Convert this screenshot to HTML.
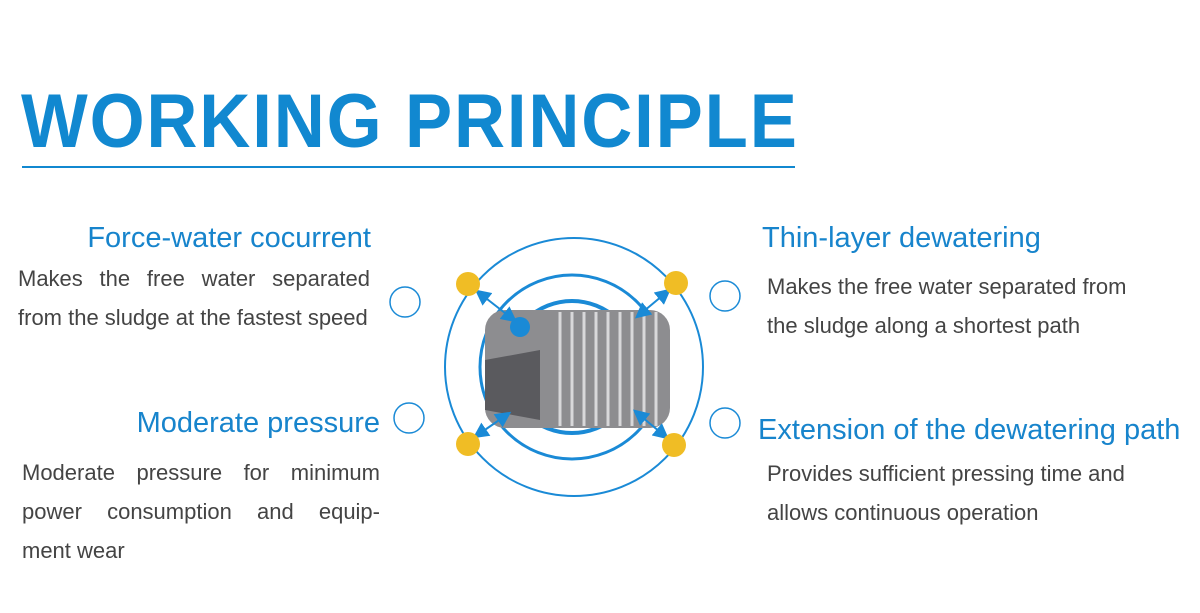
<!DOCTYPE html>
<html><head><style>
body{margin:0;width:1200px;height:613px;background:#fff;position:relative;overflow:hidden;font-family:"Liberation Sans",sans-serif}
.t{position:absolute;left:21px;top:78px;font-size:76px;font-weight:bold;color:#1188d0;letter-spacing:2px;white-space:nowrap;transform:scaleX(0.93);transform-origin:0 0}
.ln{position:absolute;left:22px;top:166px;width:773px;height:2px;background:#1188d0}
.h{position:absolute;color:#1784cc;font-size:29px;white-space:nowrap}
.p{position:absolute;color:#444;font-size:22px;line-height:39px;white-space:nowrap}
.j{text-align:justify;text-align-last:justify;white-space:normal}
</style></head><body>
<div class="t">WORKING PRINCIPLE</div>
<div class="ln"></div>
<div class="h" style="right:829px;top:222px">Force-water cocurrent</div>
<div class="p j" style="left:18px;top:259px;width:352px">Makes the free water separated</div>
<div class="p" style="left:18px;top:298px">from the sludge at the fastest speed</div>
<div class="h" style="right:820px;top:407px">Moderate pressure</div>
<div class="p j" style="left:22px;top:453px;width:358px">Moderate pressure for minimum</div>
<div class="p j" style="left:22px;top:492px;width:358px">power consumption and equip-</div>
<div class="p" style="left:22px;top:531px">ment wear</div>
<div class="h" style="left:762px;top:222px">Thin-layer dewatering</div>
<div class="p" style="left:767px;top:267px">Makes the free water separated from<br>the sludge along a shortest path</div>
<div class="h" style="left:758px;top:414px">Extension of the dewatering path</div>
<div class="p" style="left:767px;top:454px">Provides sufficient pressing time and<br>allows continuous operation</div>
<svg width="1200" height="613" style="position:absolute;left:0;top:0">
<defs><marker id="a" markerWidth="8" markerHeight="8" refX="6" refY="4" orient="auto-start-reverse"><path d="M0,0L8,4L0,8z" fill="#1a8ad6"/></marker></defs>
<g fill="none" stroke="#1a8ad6">
<circle cx="574" cy="367" r="129" stroke-width="2"/>
<circle cx="572" cy="367" r="92" stroke-width="3"/>
<circle cx="572" cy="367" r="66" stroke-width="4"/>
<circle cx="405" cy="302" r="15" stroke-width="1.5"/>
<circle cx="725" cy="296" r="15" stroke-width="1.5"/>
<circle cx="409" cy="418" r="15" stroke-width="1.5"/>
<circle cx="725" cy="423" r="15" stroke-width="1.5"/>
</g>
<rect x="485" y="310" width="185" height="118" rx="20" fill="#8d8d90"/>
<g stroke="#d8d8da" stroke-width="3">
<line x1="560" y1="312" x2="560" y2="426"/><line x1="572" y1="312" x2="572" y2="426"/><line x1="584" y1="312" x2="584" y2="426"/><line x1="596" y1="312" x2="596" y2="426"/><line x1="608" y1="312" x2="608" y2="426"/><line x1="620" y1="312" x2="620" y2="426"/><line x1="632" y1="312" x2="632" y2="426"/><line x1="644" y1="312" x2="644" y2="426"/><line x1="656" y1="312" x2="656" y2="426"/>
</g>
<path d="M485,360 L540,350 L540,420 L485,410z" fill="#5a5a5e"/>
<g stroke="#1a8ad6" stroke-width="2" marker-start="url(#a)" marker-end="url(#a)">
<line x1="478" y1="292" x2="514" y2="320"/>
<line x1="668" y1="291" x2="638" y2="316"/>
<line x1="476" y1="436" x2="508" y2="414"/>
<line x1="666" y1="437" x2="636" y2="412"/>
</g>
<circle cx="520" cy="327" r="10" fill="#1a8ad6"/>
<g fill="#f0bd25"><circle cx="468" cy="284" r="12"/><circle cx="676" cy="283" r="12"/><circle cx="468" cy="444" r="12"/><circle cx="674" cy="445" r="12"/></g>
</svg>
</body></html>
